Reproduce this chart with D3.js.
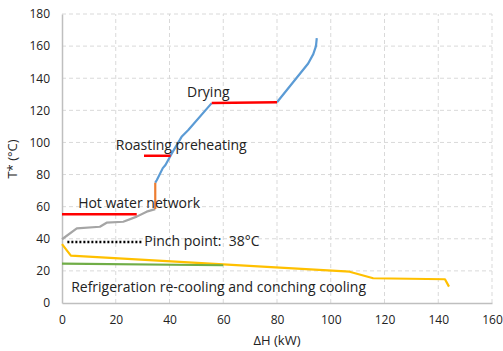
<!DOCTYPE html>
<html>
<head>
<meta charset="utf-8">
<script src="https://cdn.jsdelivr.net/npm/d3@7"></script>
<style>
  body { margin: 0; background: #fff; }
  text { font-family: "Open Sans", "Liberation Sans", sans-serif; fill: #222; white-space: pre; }
</style>
</head>
<body>
<div id="chart"></div>
<script>
var width = 503, height = 351;

// data (ΔH kW, T* °C)
var xTicks = [0, 20, 40, 60, 80, 100, 120, 140, 160];
var yTicks = [0, 20, 40, 60, 80, 100, 120, 140, 160, 180];

var hotLow = [[34.7, 58.5], [34.7, 75]];
var hotMid = [[34.7, 75], [35.3, 76.6], [37.5, 84], [38.5, 86], [40.8, 93], [44.5, 103.5], [47, 107.7], [55.7, 124.5]];
var hotTop = [[80, 125], [91.6, 149.2], [93.5, 155], [94.5, 160], [94.8, 165]];
var hotWaterCurve = [[0, 39.7], [5.5, 46.5], [14.1, 47.5], [16.6, 50], [22.8, 50.6], [27.8, 53.8], [31.5, 56.9], [34.7, 58.5]];
var coldCurve = [[0, 36.7], [3.3, 29.5], [107, 19.5], [115.8, 15.4], [142.5, 14.8], [144, 10.2]];
var greenLine = [[0, 24.5], [60, 23.5]];
var dryingLine = [[55.7, 124.5], [80, 125]];
var roastingLine = [[30.5, 91.7], [40.4, 91.7]];
var hotWaterLine = [[0, 55.2], [27.8, 55.2]];
var pinchLine = [[2, 38], [29.6, 38]];

var labels = [
  { text: "Drying", x: 46.5, y: 128.5 },
  { text: "Roasting preheating", x: 20, y: 95 },
  { text: "Hot water network", x: 6, y: 59 },
  { text: "Pinch point:  38°C", x: 30.6, y: 35.5 },
  { text: "Refrigeration re-cooling and conching cooling", x: 3.4, y: 7 }
];

var svg = d3.select('#chart').append('svg')
  .attr('width', width)
  .attr('height', height);

var x = d3.scaleLinear().domain([0, 160]).range([62, 492]);
var y = d3.scaleLinear().domain([0, 180]).range([303, 14]);

// grid
svg.append('g').selectAll('line').data(yTicks.slice(1)).enter().append('line')
  .attr('x1', x(0)).attr('x2', x(160))
  .attr('y1', function(d) { return y(d); }).attr('y2', function(d) { return y(d); })
  .attr('stroke', '#d9d9d9').attr('stroke-dasharray', '4,3');
svg.append('g').selectAll('line').data(xTicks.slice(1)).enter().append('line')
  .attr('y1', y(0)).attr('y2', y(180))
  .attr('x1', function(d) { return x(d); }).attr('x2', function(d) { return x(d); })
  .attr('stroke', '#d9d9d9').attr('stroke-dasharray', '4,3');

// axes
var xAxis = svg.append('g').attr('transform', 'translate(0,' + y(0) + ')')
  .call(d3.axisBottom(x).tickValues(xTicks).tickSize(0).tickPadding(12));
var yAxis = svg.append('g').attr('transform', 'translate(' + x(0) + ',0)')
  .call(d3.axisLeft(y).tickValues(yTicks).tickSize(0).tickPadding(12));
[xAxis, yAxis].forEach(function(a) {
  a.select('.domain').attr('stroke', '#bfbfbf').attr('stroke-width', 1.5);
  a.selectAll('text').style('font-size', '12px').style('font-family', '"Open Sans", sans-serif').attr('fill', '#333');
});

svg.append('text').attr('x', 277).attr('y', 345).attr('text-anchor', 'middle')
  .style('font-size', '13px').text('ΔH (kW)');
svg.append('text').attr('transform', 'translate(17,159) rotate(-90)').attr('text-anchor', 'middle')
  .style('font-size', '13px').text('T* (°C)');

var line = d3.line().x(function(d) { return x(d[0]); }).y(function(d) { return y(d[1]); });

function draw(data, color, w, dash) {
  svg.append('path').datum(data).attr('d', line)
    .attr('fill', 'none').attr('stroke', color).attr('stroke-width', w)
    .attr('stroke-linejoin', 'round')
    .attr('stroke-dasharray', dash || null);
}

draw(coldCurve, '#ffc000', 2.2);
draw(greenLine, '#70ad47', 2.2);
draw(hotWaterCurve, '#a5a5a5', 2.2);
draw(hotLow, '#ed7d31', 2.2);
draw(hotMid, '#5b9bd5', 2.2);
draw(hotTop, '#5b9bd5', 2.2);
draw(dryingLine, '#ff0000', 2.5);
draw(roastingLine, '#ff0000', 2.5);
draw(hotWaterLine, '#ff0000', 2.5);
draw(pinchLine, '#000', 2.5, '2,2');

svg.append('g').selectAll('text').data(labels).enter().append('text')
  .attr('x', function(d) { return x(d.x); })
  .attr('y', function(d) { return y(d.y); })
  .style('font-size', '14px')
  .text(function(d) { return d.text; });
</script>
</body>
</html>
